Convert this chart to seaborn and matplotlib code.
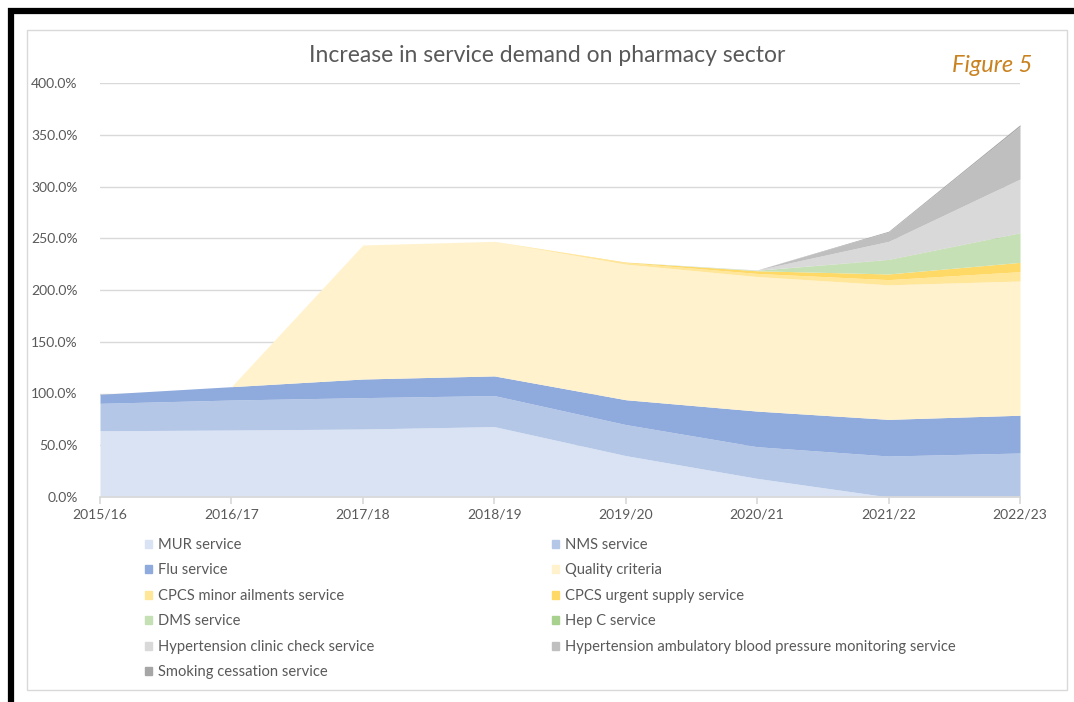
import matplotlib.pyplot as plt
import matplotlib.patches as mpatches
import numpy as np
import seaborn as sns

years = ['2015/16', '2016/17', '2017/18', '2018/19', '2019/20', '2020/21', '2021/22', '2022/23']

services = ['MUR service', 'NMS service', 'Flu service', 'Quality criteria',
            'CPCS minor ailments service', 'CPCS urgent supply service',
            'DMS service', 'Hep C service', 'Hypertension clinic check service',
            'Hypertension ambulatory blood pressure monitoring service',
            'Smoking cessation service']

# values in percent
mur = [64, 64.7, 65.7, 68, 40, 18, 0, 0]
nms = [26.5, 29, 30.3, 30, 30, 30.6, 39.6, 42.5]
flu = [8.7, 12.9, 18, 19, 24, 34.4, 35.4, 36.5]
quality = [0, 0, 129.5, 130, 131, 130, 130, 129.7]
cpcs_minor = [0, 0, 0, 0, 1.5, 3, 5, 9]
cpcs_urgent = [0, 0, 0, 0, 0.5, 2.6, 5.5, 9]
dms = [0, 0, 0, 0, 0, 0.5, 13.5, 28]
hep_c = [0, 0, 0, 0, 0, 0, 0.5, 0.5]
htn_clinic = [0, 0, 0, 0, 0, 0.3, 17.5, 52]
htn_abpm = [0, 0, 0, 0, 0, 0, 9, 51]
smoking = [0, 0, 0, 0, 0, 0, 0.8, 1.5]

colors = ['#dae3f3', '#b4c7e7', '#8faadc', '#fff2cc', '#ffe699', '#ffd966',
          '#c5e0b4', '#a9d18e', '#d9d9d9', '#bfbfbf', '#a6a6a6']

sns.set_theme(style='white')
plt.rcParams['font.family'] = ['Lato', 'DejaVu Sans']
text_col = '#595959'

fig = plt.figure(figsize=(10.74, 7.02), dpi=100)
ax = fig.add_axes([100 / 1074, 1 - 497 / 702, 920 / 1074, 414 / 702])

x = np.arange(len(years))
series = [mur, nms, flu, quality, cpcs_minor, cpcs_urgent, dms, hep_c,
          htn_clinic, htn_abpm, smoking]
ax.stackplot(x, *series, colors=colors, linewidth=0)

ax.set_xlim(0, len(years) - 1)
ax.set_ylim(0, 400)
ax.set_yticks(np.arange(0, 401, 50))
ax.set_yticklabels([f'{v:.1f}%' for v in np.arange(0, 401, 50)],
                   fontsize=10, color=text_col)
ax.set_xticks(x)
ax.set_xticklabels(years, fontsize=10, color=text_col)
ax.yaxis.grid(True, color='#d9d9d9', linewidth=1)
ax.set_axisbelow(True)
for side in ['top', 'right', 'left']:
    ax.spines[side].set_visible(False)
ax.spines['bottom'].set_color('#d9d9d9')
ax.tick_params(axis='x', length=5, color='#d9d9d9', pad=3, bottom=True)
ax.tick_params(axis='y', length=0, pad=16)

fig.text(547 / 1074, 1 - 55 / 702, 'Increase in service demand on pharmacy sector',
         ha='center', va='center', fontsize=16.5, color=text_col)
fig.text(992 / 1074, 1 - 66 / 702, 'Figure 5', ha='center', va='center',
         fontsize=17, style='italic', color='#c9821f')

# legend in two columns, row-major like the original
handles = [mpatches.Rectangle((0, 0), 1, 1, color=c) for c in colors]
leg_kw = dict(frameon=False, fontsize=10.6, handlelength=0.5, handleheight=0.5,
              handletextpad=0.4, labelspacing=0.78, loc='upper left',
              borderaxespad=0, borderpad=0, labelcolor=text_col)
leg1 = fig.legend(handles[0::2], services[0::2],
                  bbox_to_anchor=(145 / 1074, 1 - 538 / 702), **leg_kw)
fig.legend(handles[1::2], services[1::2],
           bbox_to_anchor=(552 / 1074, 1 - 538 / 702), **leg_kw)

# outer black frame and inner chart border
fig.patches.append(mpatches.Rectangle((11 / 1074, -0.1), 1.2, 1.1 - 11 / 702,
                                      transform=fig.transFigure, fill=False,
                                      edgecolor='black', linewidth=4.5))
fig.patches.append(mpatches.Rectangle((27 / 1074, 1 - 690 / 702), 1040 / 1074, 660 / 702,
                                      transform=fig.transFigure, fill=False,
                                      edgecolor='#d9d9d9', linewidth=1))

fig.savefig('out.png', dpi=100, facecolor='white')
